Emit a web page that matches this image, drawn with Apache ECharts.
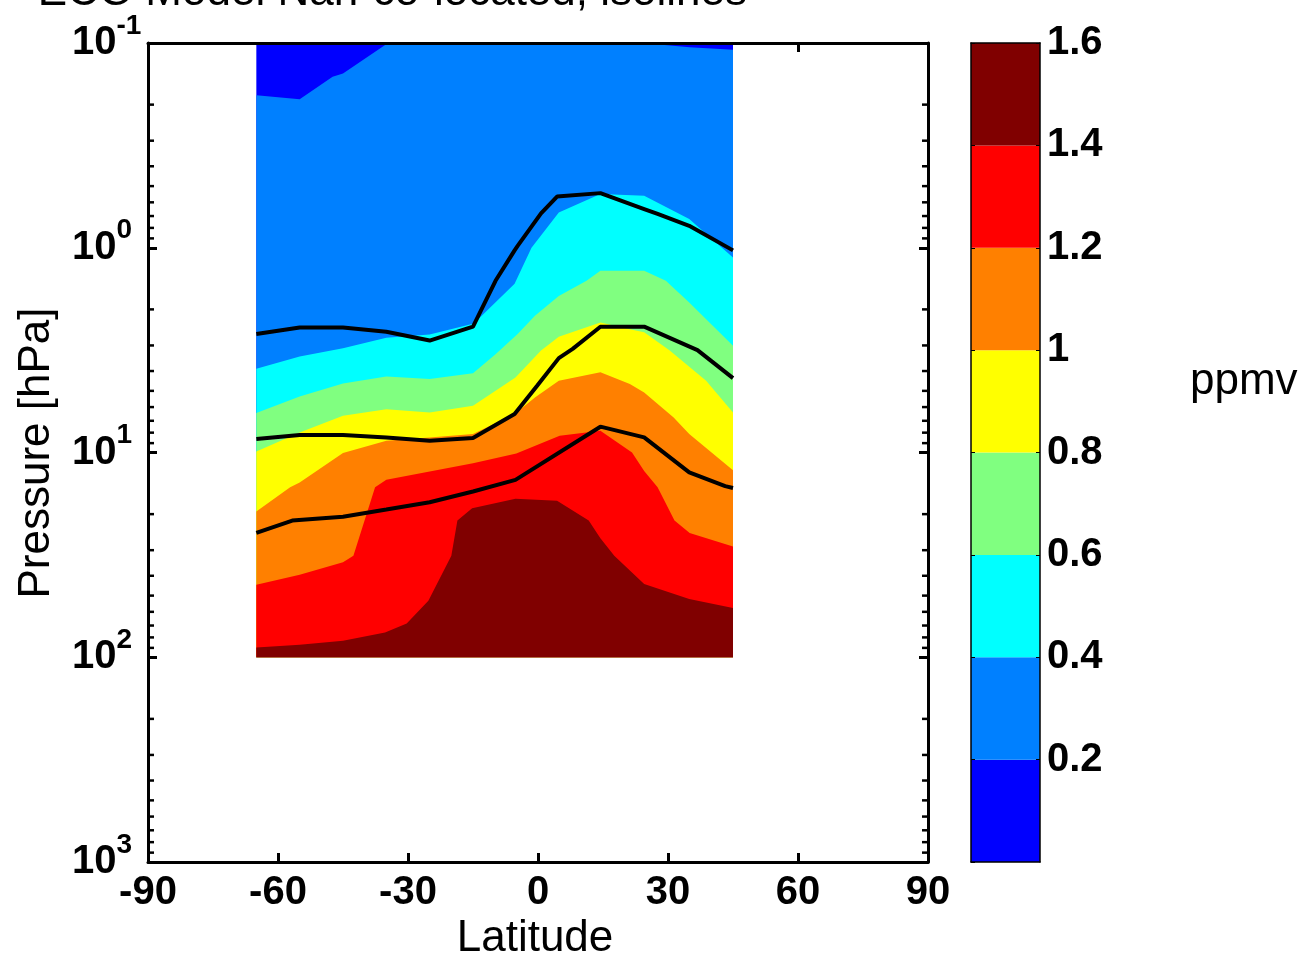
<!DOCTYPE html>
<html><head><meta charset="utf-8">
<script src="https://cdn.jsdelivr.net/npm/echarts@6/dist/echarts.min.js"></script>
<style>html,body{margin:0;padding:0;background:#fff}#c{width:1311px;height:956px}</style>
</head><body><div id="c"></div>
<script>
// ---------- data ----------
const latTicks = [-90, -60, -30, 0, 30, 60, 90];
const pressureDecades = [0.1, 1, 10, 100];
const minorMultipliers = [2, 3, 4, 5, 6, 7, 8, 9];
const colorLevels = [0, 0.2, 0.4, 0.6, 0.8, 1.0, 1.2, 1.4, 1.6];
const bandColors = ['#0000FF', '#0080FF', '#00FFFF', '#80FF80', '#FFFF00', '#FF8000', '#FF0000', '#800000'];
const dataLatMin = -65, dataLatMax = 45, dataPTop = 0.1, dataPBottom = 100;

// contour boundaries [latitude, pressure hPa]; region below each line exceeds the level
const contourBase = [[-65, 0.1], [45, 0.1]];
const contour02 = [[-65, 0.18], [-55, 0.188], [-47.4, 0.146], [-45, 0.141], [-34.6, 0.1], [24, 0.1], [35, 0.105], [45, 0.108]];
const contour04 = [[-65, 3.9], [-55, 3.4], [-45, 3.1], [-35, 2.75], [-25, 2.65], [-15, 2.35], [-13.4, 2.19], [-5.4, 1.5], [-1.5, 1.0], [4.8, 0.672], [14.4, 0.547], [24.5, 0.557], [34.9, 0.724], [45, 1.115]];
const contour06 = [[-65, 6.42], [-55, 5.32], [-45, 4.6], [-35, 4.26], [-25, 4.37], [-15, 4.1], [-9.8, 3.31], [-4.7, 2.64], [-0.7, 2.15], [4.8, 1.72], [11.2, 1.45], [14.4, 1.295], [24.5, 1.295], [29.5, 1.45], [34.9, 1.85], [45, 3.01]];
const contour08 = [[-65, 9.88], [-55, 7.98], [-45, 6.61], [-35, 6.14], [-25, 6.37], [-15, 5.91], [-5.2, 4.3], [0.7, 3.18], [4.8, 2.72], [14.4, 2.32], [21.2, 2.5], [24.5, 2.59], [30.4, 3.18], [38.8, 4.46], [45, 6.37]];
const contour10 = [[-65, 19.4], [-57.2, 14.8], [-55, 14], [-45, 10.06], [-35, 8.76], [-25, 8.44], [-15, 8.13], [-5.4, 6.49], [-0.7, 5.38], [4.8, 4.46], [14.4, 4.06], [21.2, 4.63], [24.5, 5.09], [31.3, 6.74], [34.9, 8.13], [45, 12.2]];
const contour12 = [[-65, 44.2], [-55, 39.5], [-45, 34.4], [-42.6, 31.9], [-37.6, 14.8], [-35, 13.6], [-15, 11.3], [-5, 10.1], [5, 8.28], [14.4, 7.83], [21.7, 10], [24.5, 12.3], [27.6, 14.8], [31.5, 21.5], [35, 24.7], [45, 28.8]];
const contour14 = [[-65, 89.5], [-55, 87], [-45, 83], [-35.3, 75.6], [-30.3, 68.4], [-25.3, 53], [-20, 31.9], [-18.6, 21.5], [-15.2, 18.7], [-5.2, 16.8], [4.4, 17.2], [11.7, 21.5], [14.4, 26.2], [17.6, 31.9], [24.5, 43.9], [34.9, 52], [45, 57.5]];
const contourBoundaries = [contourBase, contour02, contour04, contour06, contour08, contour10, contour12, contour14];

// black isolines [latitude, pressure hPa]
const isolineUpper = [[-65, 2.64], [-55, 2.45], [-45, 2.45], [-35, 2.57], [-25, 2.84], [-15, 2.43], [-9.8, 1.45], [-5.4, 1.03], [-4.7, 0.98], [0.7, 0.68], [4.4, 0.562], [14.4, 0.541], [24.5, 0.647], [27.6, 0.684], [34.9, 0.781], [45, 1.03]];
const isolineMiddle = [[-65, 8.6], [-55, 8.22], [-45, 8.22], [-35, 8.44], [-25, 8.76], [-15, 8.5], [-5.4, 6.49], [-0.2, 4.72], [4.8, 3.46], [8, 3.12], [14.4, 2.43], [24.5, 2.43], [36.8, 3.16], [45, 4.33]];
const isolineLower = [[-65, 24.7], [-56.7, 21.5], [-45, 20.6], [-35, 19], [-25, 17.5], [-15, 15.5], [-5.2, 13.6], [14.4, 7.48], [24.5, 8.44], [34.9, 12.5], [43.2, 14.6], [45, 14.9]];

// ---------- chart ----------
const FONT = '"Liberation Sans", Arial, Helvetica, sans-serif';
const chart = echarts.init(document.getElementById('c'), null, { renderer: 'canvas' });

const minorTickValues = [];
pressureDecades.forEach(d => minorMultipliers.forEach(m => minorTickValues.push(+(m * d).toPrecision(3))));
const minorTickData = [];
minorTickValues.forEach(v => { minorTickData.push([-90, v]); minorTickData.push([90, v]); });

const logAxisBase = {
  type: 'log', logBase: 10, min: 0.1, max: 1000, inverse: true, gridIndex: 0,
  splitLine: { show: false }, minorTick: { show: false }, minorSplitLine: { show: false }
};

const series = [];
series.push({
  type: 'custom', xAxisIndex: 0, yAxisIndex: 0, z: 2, clip: true, silent: true,
  data: contourBoundaries.map(b => b[0]),
  renderItem: function (params, api) {
    const pts = contourBoundaries[params.dataIndex].map(p => api.coord(p));
    pts.push(api.coord([dataLatMax, dataPBottom]));
    pts.push(api.coord([dataLatMin, dataPBottom]));
    return { type: 'polygon', shape: { points: pts }, style: { fill: bandColors[params.dataIndex] } };
  }
});
series.push({
  type: 'custom', xAxisIndex: 0, yAxisIndex: 0, z: 1, clip: false, silent: true,
  data: minorTickData,
  renderItem: function (params, api) {
    const c = api.coord([api.value(0), api.value(1)]);
    const dir = api.value(0) < 0 ? 1 : -1;
    return { type: 'line', shape: { x1: c[0], y1: c[1], x2: c[0] + dir * 6, y2: c[1] }, style: { stroke: '#000', lineWidth: 2.5 } };
  }
});
[isolineUpper, isolineMiddle, isolineLower].forEach(d => series.push({
  type: 'line', xAxisIndex: 0, yAxisIndex: 0, data: d, symbol: 'none', z: 3, silent: true,
  lineStyle: { color: '#000', width: 4 }
}));
for (let i = 0; i < bandColors.length; i++) {
  series.push({
    type: 'bar', xAxisIndex: 3, yAxisIndex: 2, stack: 'cb', barWidth: '100%', silent: true,
    data: [+(colorLevels[i + 1] - colorLevels[i]).toFixed(2)],
    itemStyle: { color: bandColors[i] }
  });
}

const option = {
  animation: false,
  backgroundColor: '#fff',
  grid: [
    { left: 148, top: 43, width: 780, height: 819, containLabel: false },
    { left: 971, top: 43, width: 69, height: 819, containLabel: false }
  ],
  xAxis: [
    { type: 'value', gridIndex: 0, min: -90, max: 90, interval: 30, position: 'bottom',
      axisLine: { show: true, onZero: false, lineStyle: { color: '#000', width: 3 } },
      axisTick: { show: true, inside: true, length: 9, lineStyle: { color: '#000', width: 3 } },
      axisLabel: { show: true, margin: 11, color: '#000', fontSize: 40, fontWeight: 'bold', fontFamily: FONT, showMinLabel: true, showMaxLabel: true },
      splitLine: { show: false } },
    { type: 'value', gridIndex: 0, min: -90, max: 90, interval: 30, position: 'top', z: 3,
      axisLine: { show: true, onZero: false, lineStyle: { color: '#000', width: 3 } },
      axisTick: { show: false }, axisLabel: { show: false }, splitLine: { show: false } },
    { type: 'value', gridIndex: 0, min: -90, max: 90, interval: 30, position: 'top', z: 0,
      axisLine: { show: false, onZero: false },
      axisTick: { show: true, inside: true, length: 9, lineStyle: { color: '#000', width: 3 } },
      axisLabel: { show: false }, splitLine: { show: false } },
    { type: 'category', gridIndex: 1, data: ['cb'], position: 'bottom', z: 5,
      axisLine: { show: true, onZero: false, lineStyle: { color: '#000', width: 1.5 } },
      axisTick: { show: false }, axisLabel: { show: false }, splitLine: { show: false } },
    { type: 'category', gridIndex: 1, data: ['cb'], position: 'top', z: 5,
      axisLine: { show: true, onZero: false, lineStyle: { color: '#000', width: 1.5 } },
      axisTick: { show: false }, axisLabel: { show: false }, splitLine: { show: false } }
  ],
  yAxis: [
    Object.assign({}, logAxisBase, {
      position: 'left',
      axisLine: { show: true, onZero: false, lineStyle: { color: '#000', width: 3 } },
      axisTick: { show: true, inside: true, length: 9, lineStyle: { color: '#000', width: 3 } },
      axisLabel: {
        show: true, margin: 76, align: 'left', color: '#000', showMinLabel: true, showMaxLabel: true,
        formatter: function (v) { return '{b|10}{s|' + Math.round(Math.log10(v)) + '}'; },
        rich: {
          b: { fontSize: 40, fontWeight: 'bold', fontFamily: FONT, color: '#000', lineHeight: 62, verticalAlign: 'middle' },
          s: { fontSize: 28, fontWeight: 'bold', fontFamily: FONT, color: '#000', lineHeight: 28, verticalAlign: 'top' }
        }
      }
    }),
    Object.assign({}, logAxisBase, {
      position: 'right',
      axisLine: { show: true, onZero: false, lineStyle: { color: '#000', width: 3 } },
      axisTick: { show: true, inside: true, length: 9, lineStyle: { color: '#000', width: 3 } },
      axisLabel: { show: false }
    }),
    { type: 'value', gridIndex: 1, min: 0, max: 1.6, interval: 0.2, position: 'right', z: 5,
      axisLine: { show: true, onZero: false, lineStyle: { color: '#000', width: 1.5 } },
      axisTick: { show: true, inside: true, length: 4, lineStyle: { color: '#000', width: 1 } },
      axisLabel: { show: true, margin: 7, color: '#000', fontSize: 40, fontWeight: 'bold', fontFamily: FONT,
        showMinLabel: false, showMaxLabel: true,
        formatter: function (v) { return v < 1e-9 ? '' : String(Math.round(v * 10) / 10); } },
      splitLine: { show: false } },
    { type: 'value', gridIndex: 1, min: 0, max: 1.6, interval: 0.2, position: 'left', z: 5,
      axisLine: { show: true, onZero: false, lineStyle: { color: '#000', width: 1.5 } },
      axisTick: { show: true, inside: true, length: 4, lineStyle: { color: '#000', width: 1 } },
      axisLabel: { show: false }, splitLine: { show: false } }
  ],
  graphic: [
    { type: 'text', x: 747, y: -7, silent: true,
      style: { text: 'ECO Model Nan-co-located, isolines', fontSize: 44, fontFamily: FONT, fill: '#000', align: 'right', verticalAlign: 'middle', textAlign: 'right', textVerticalAlign: 'middle' } },
    { type: 'text', x: 535, y: 939, silent: true,
      style: { text: 'Latitude', fontSize: 44, fontFamily: FONT, fill: '#000', align: 'center', verticalAlign: 'middle', textAlign: 'center', textVerticalAlign: 'middle' } },
    { type: 'text', x: 1190, y: 382, silent: true,
      style: { text: 'ppmv', fontSize: 44, fontFamily: FONT, fill: '#000', align: 'left', verticalAlign: 'middle', textAlign: 'left', textVerticalAlign: 'middle' } },
    { type: 'text', x: 37, y: 453, rotation: Math.PI / 2, silent: true,
      style: { text: 'Pressure [hPa]', fontSize: 44, fontFamily: FONT, fill: '#000', align: 'center', verticalAlign: 'middle', textAlign: 'center', textVerticalAlign: 'middle' } }
  ],
  series: series
};
chart.setOption(option);
</script>
</body></html>
